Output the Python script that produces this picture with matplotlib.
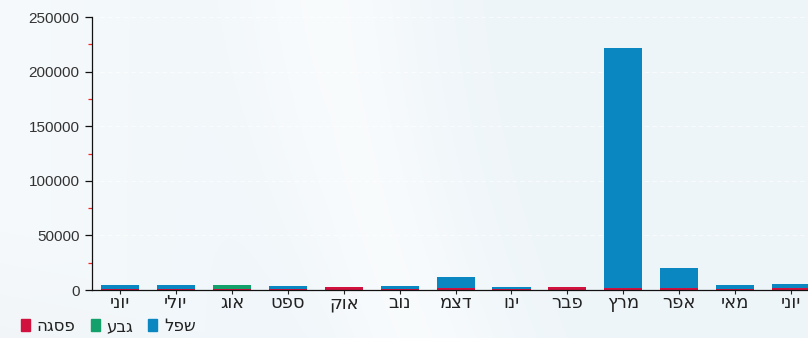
import numpy as np
import matplotlib
matplotlib.use("Agg")
import matplotlib.pyplot as plt
from matplotlib.ticker import MultipleLocator

# ---- data ----
months = ["יוני", "יולי", "אוג", "ספט", "אוק", "נוב", "דצמ", "ינו", "פבר", "מרץ", "אפר", "מאי", "יוני"]
series_names = ["פסגה", "גבע", "שפל"]
peak = [1200, 1200, 1200, 1000, 2800, 1000, 2200, 600, 2800, 2000, 2000, 1200, 1800]   # פסגה
mid = [0, 0, 3000, 0, 0, 0, 0, 0, 0, 0, 0, 0, 0]                                       # גבע
low = [3000, 3000, 0, 2800, 0, 2800, 9500, 2200, 0, 220000, 18000, 3200, 3800]         # שפל
colors = ["#d2123e", "#14a06a", "#0a86c0"]

def vis(s):
    # matplotlib has no bidi support: give Hebrew in visual order
    return s[::-1]

plt.rcParams['font.family'] = ['Liberation Sans', 'DejaVu Sans']

W, H = 808, 338
fig = plt.figure(figsize=(W / 100, H / 100), dpi=100)

# background
bg = fig.add_axes([0, 0, 1, 1], zorder=-10)
yy, xx = np.mgrid[0:H, 0:W]
base = np.ones((H, W, 3)) * np.array([0.935, 0.962, 0.978])
d = np.abs(xx - (330 + 0.00045 * (yy ** 2) + 0.1 * yy))
light = np.exp(-(d / 90.0) ** 2) * 0.6
light += np.clip((330 - xx) / 330, 0, 1) * 0.45
dark = np.clip(((yy - 210) - (xx * 0.6)) / 120, 0, 1) * 0.5
img = base + (1 - base) * light[..., None]
img = img - dark[..., None] * 0.03
img = np.clip(img, 0, 1)
bg.imshow(img, aspect='auto', extent=[0, 1, 0, 1], origin='upper')
bg.set_axis_off()

ax = fig.add_axes([92 / W, 1 - 290 / H, 1 - 92 / W + 0.002, (290 - 17) / H])
ax.patch.set_alpha(0)

x = np.arange(len(months))
bw = 0.68
b1 = np.array(peak)
b2 = b1 + np.array(mid)
ax.bar(x, peak, bw, color=colors[0], linewidth=0, zorder=3)
ax.bar(x, mid, bw, bottom=b1, color=colors[1], linewidth=0, zorder=3)
ax.bar(x, low, bw, bottom=b2, color=colors[2], linewidth=0, zorder=3)

ax.set_xlim(-0.5, 12.33)
ax.set_ylim(0, 250000)
ax.yaxis.set_major_locator(MultipleLocator(50000))
ax.yaxis.set_minor_locator(MultipleLocator(25000))
for yv in range(50000, 250001, 50000):
    ax.axhline(yv, color="white", lw=0.8, ls=(0, (4, 3)), alpha=0.6, zorder=1)

ax.set_xticks(x)
ax.set_xticklabels([vis(m) for m in months], family=['DejaVu Sans'])
ax.tick_params(axis='x', length=3, width=0.8, color='#222222', labelsize=13, labelcolor='#222222', pad=0)
ax.tick_params(axis='y', which='major', length=5, width=0.9, color='#111111', labelsize=11, labelcolor='#333333', pad=4)
ax.tick_params(axis='y', which='minor', length=3, width=0.9, color='#ff2020')
for s in ['top', 'right']:
    ax.spines[s].set_visible(False)
for s in ['left', 'bottom']:
    ax.spines[s].set_color('#111111')
    ax.spines[s].set_linewidth(0.9)
    ax.spines[s].set_zorder(4)

# legend
handles = [plt.Rectangle((0, 0), 1, 1, color=c) for c in colors]
leg = fig.legend(handles, [vis(n) for n in series_names], loc='lower left',
                 bbox_to_anchor=(6 / W, -0.035), ncol=3, frameon=False,
                 prop={'family': ['DejaVu Sans'], 'size': 12},
                 handlelength=0.55, handleheight=0.75, handletextpad=0.4, columnspacing=0.9,
                 labelcolor='#222222')

fig.savefig("out.png", dpi=100)
